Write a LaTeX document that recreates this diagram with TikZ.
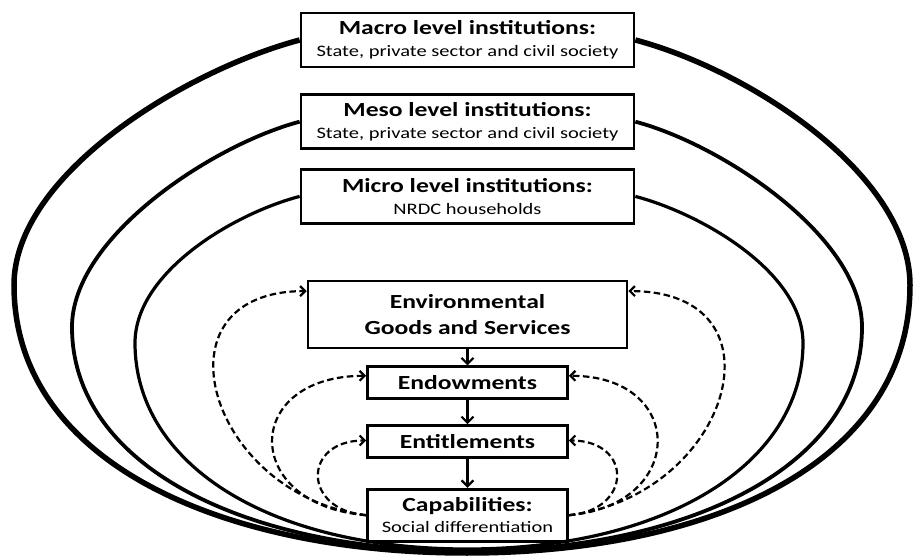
\documentclass[tikz,border=0pt]{standalone}
\usepackage{fontspec}
\setmainfont{Carlito}[FakeStretch=1.28]
\usetikzlibrary{positioning,arrows.meta}
\tikzstyle{instbox} = [draw=black, line width=2.7pt, minimum width=333pt, minimum height=54pt,
                       inner sep=0pt, align=center, font=\fontsize{16}{22}\selectfont]
\tikzstyle{stagebox} = [draw=black, line width=2.7pt, minimum width=200pt, minimum height=32pt,
                        inner sep=0pt, align=center, font=\fontsize{20}{26}\selectfont\bfseries]
\tikzstyle{flow} = [line width=2.2pt, -{Straight Barb[length=6pt,width=12pt]}]
\tikzstyle{feedback} = [line width=2.2pt, dash pattern=on 6.5pt off 3.5pt, -{Straight Barb[length=5pt,width=10pt]}]
\newcommand{\boxtitle}[1]{{\fontsize{20}{22}\selectfont\bfseries #1}}

\begin{document}
\begin{tikzpicture}[x=1pt, y=1pt]
    \useasboundingbox (0,0) rectangle (914,558);

    % institution levels
    \node[instbox] (macro) at (467.5,518) {\boxtitle{Macro level institutions:}\\State, private sector and civil society};
    \node[instbox, below=25pt of macro] (meso) {\boxtitle{Meso level institutions:}\\State, private sector and civil society};
    \node[instbox, below=18pt of meso] (micro) {\boxtitle{Micro level institutions:}\\NRDC households};

    % stages
    \node[stagebox, below=55pt of micro, minimum width=319pt, minimum height=67pt] (env) {Environmental\\Goods and Services};
    \node[stagebox, below=16pt of env] (endow) {Endowments};
    \node[stagebox, below=24pt of endow] (entitl) {Entitlements};
    \node[stagebox, below=29pt of entitl, minimum height=52pt, font=\fontsize{16}{21}\selectfont] (capab)
        {\boxtitle{Capabilities:}\\Social differentiation};

    % outline points
    \coordinate (outerR) at (910,273);
    \coordinate (outerB) at (467,5);
    \coordinate (outerL) at (14,273);
    \coordinate (mesoR) at (862,231);
    \coordinate (mesoB) at (467,7);
    \coordinate (mesoL) at (72,231);
    \coordinate (microR) at (803,215);
    \coordinate (microB) at (467,9);
    \coordinate (microL) at (135,215);

    % nested outlines
    \draw[line width=5.5pt] (macro.east) .. controls +(116,-31) and +(0,110) .. (outerR)
        .. controls +(0,-180) and +(240,0) .. (outerB)
        .. controls +(-240,0) and +(0,-180) .. (outerL)
        .. controls +(0,110) and +(-116,-31) .. (macro.west);
    \draw[line width=3.8pt] (meso.east) .. controls +(87,-23) and +(0,90) .. (mesoR)
        .. controls +(0,-140) and +(220,0) .. (mesoB)
        .. controls +(-220,0) and +(0,-140) .. (mesoL)
        .. controls +(0,90) and +(-87,-23) .. (meso.west);
    \draw[line width=3.2pt] (micro.east) .. controls +(68,-18) and +(0,70) .. (microR)
        .. controls +(0,-120) and +(200,0) .. (microB)
        .. controls +(-200,0) and +(0,-120) .. (microL)
        .. controls +(0,70) and +(-68,-18) .. (micro.west);

    % chain
    \draw[flow] (env) -- (endow);
    \draw[flow] (endow) -- (entitl);
    \draw[flow] (entitl) -- (capab);

    % feedback loops
    \draw[feedback] (capab.west) .. controls +(-158,20) and +(-158,0) .. ([yshift=23.5pt]env.west);
    \draw[feedback] (capab.west) .. controls +(-125,10) and +(-125,0) .. ([yshift=7pt]endow.west);
    \draw[feedback] (capab.west) .. controls +(-64,5) and +(-64,0) .. ([yshift=1pt]entitl.west);
    \draw[feedback] (capab.east) .. controls +(162,20) and +(162,0) .. ([yshift=23.5pt]env.east);
    \draw[feedback] (capab.east) .. controls +(118,10) and +(118,0) .. ([yshift=7pt]endow.east);
    \draw[feedback] (capab.east) .. controls +(64,5) and +(64,0) .. ([yshift=1pt]entitl.east);
\end{tikzpicture}
\end{document}
